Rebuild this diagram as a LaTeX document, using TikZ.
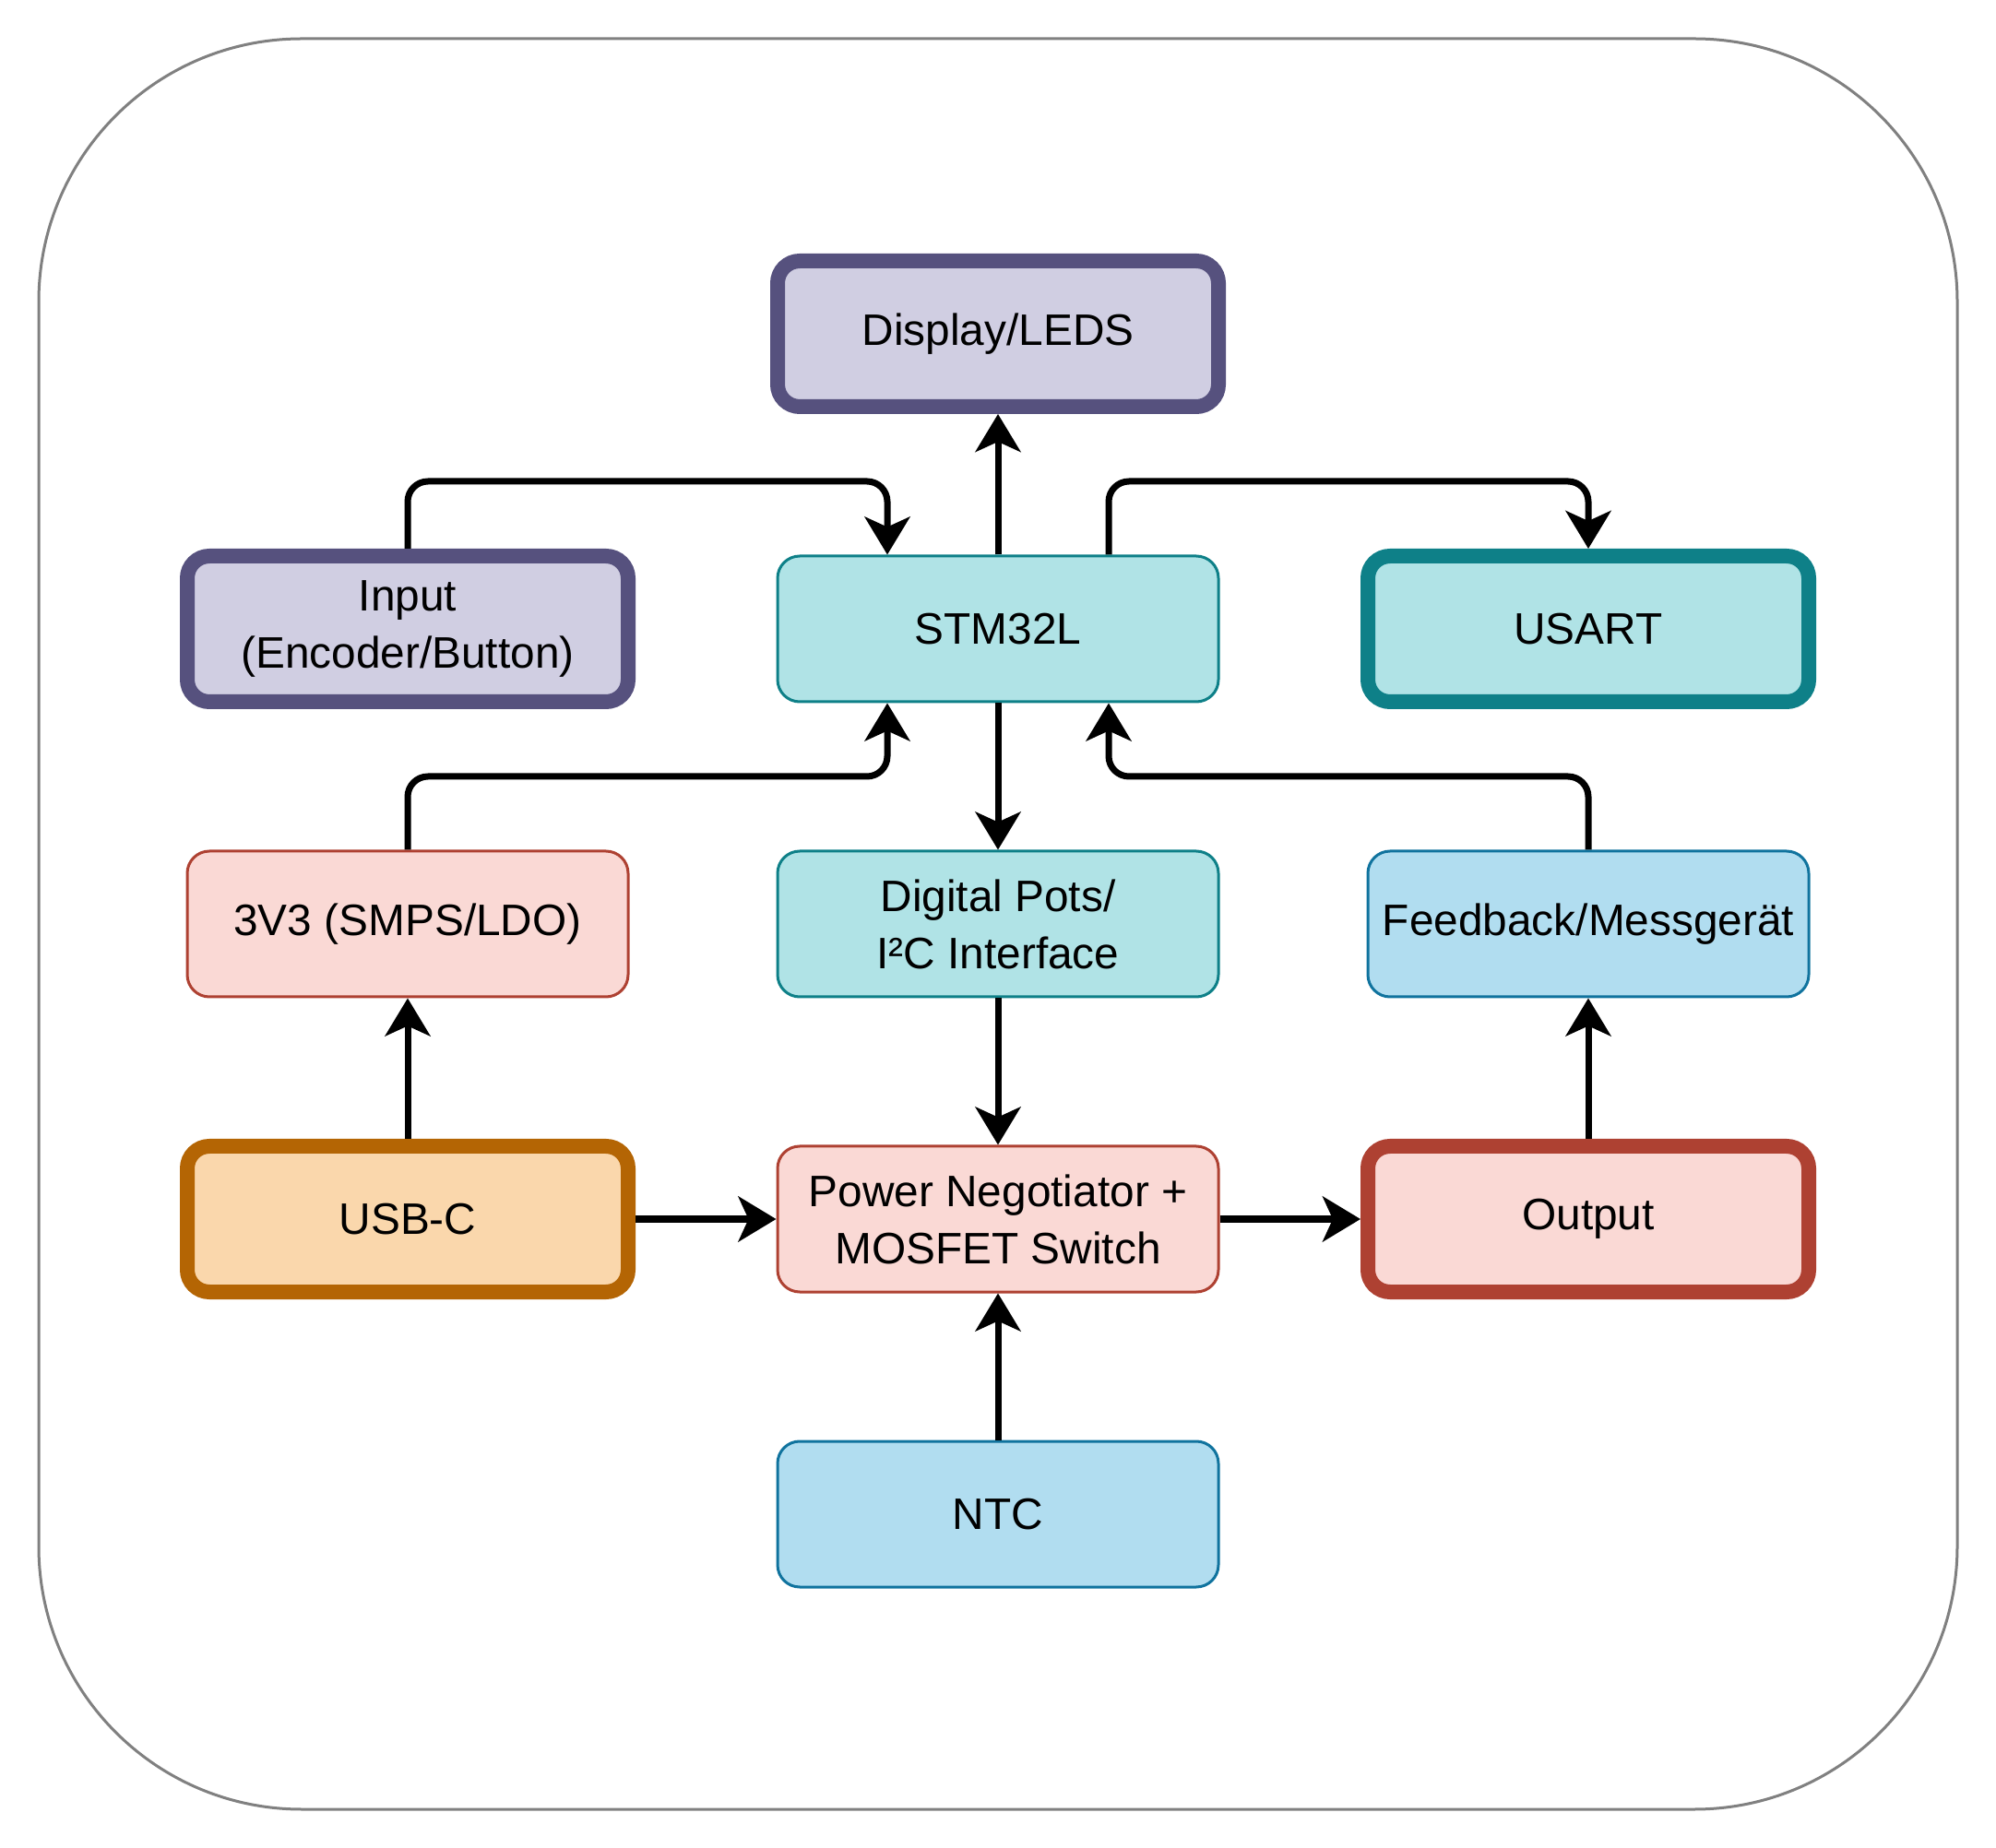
\documentclass[tikz,border=0pt]{standalone}
\usepackage{fontspec}
\setmainfont{Liberation Sans}
\usetikzlibrary{arrows.meta}
\definecolor{purpfill}{HTML}{D0CEE2}
\definecolor{purpline}{HTML}{56517E}
\definecolor{tealfill}{HTML}{B0E3E6}
\definecolor{tealline}{HTML}{0E8088}
\definecolor{redfill}{HTML}{FAD9D5}
\definecolor{redline}{HTML}{AE4132}
\definecolor{orgfill}{HTML}{FAD7AC}
\definecolor{orgline}{HTML}{B46504}
\definecolor{bluefill}{HTML}{B1DDF0}
\definecolor{blueline}{HTML}{10739E}
\definecolor{frameline}{HTML}{808080}
\tikzset{
  blok/.style={draw, rounded corners=0.24cm, minimum width=4.78cm, minimum height=1.58cm,
    align=center, line width=0.03cm, font=\fontsize{13.6}{17.6}\selectfont},
  heavy/.style={line width=0.16cm},
  purp/.style={fill=purpfill, draw=purpline},
  teal/.style={fill=tealfill, draw=tealline},
  redd/.style={fill=redfill, draw=redline},
  orng/.style={fill=orgfill, draw=orgline},
  blue/.style={fill=bluefill, draw=blueline},
  conn/.style={line width=0.07cm, rounded corners=0.22cm,
    -{Stealth[length=0.41cm,width=0.49cm,inset=0.11cm]}}
}
\begin{document}
\begin{tikzpicture}
\useasboundingbox (0,0) rectangle (21.64,-20.04);
\path[draw=frameline, line width=0.03cm, rounded corners=2.85cm] (0.42,-0.42) rectangle (21.22,-19.62);

\node[blok,purp,heavy] (disp) at (10.82,-3.62) {Display/LEDS};
\node[blok,purp,heavy] (input) at (4.42,-6.82) {Input\\(Encoder/Button)};
\node[blok,teal] (stm) at (10.82,-6.82) {STM32L};
\node[blok,teal,heavy] (usart) at (17.22,-6.82) {USART};
\node[blok,redd] (ldo) at (4.42,-10.02) {3V3 (SMPS/LDO)};
\node[blok,teal] (pots) at (10.82,-10.02) {Digital Pots/\\I²C Interface};
\node[blok,blue] (fb) at (17.22,-10.02) {Feedback/Messgerät};
\node[blok,orng,heavy] (usbc) at (4.42,-13.22) {USB-C};
\node[blok,redd] (power) at (10.82,-13.22) {Power Negotiator +\\MOSFET Switch};
\node[blok,redd,heavy] (out) at (17.22,-13.22) {Output};
\node[blok,blue] (ntc) at (10.82,-16.42) {NTC};

\path[draw,conn] (stm.north) -- (disp.south);
\path[draw,conn] (input.north) -- (input.north |- 0,-5.22) -| ([xshift=-1.2cm]stm.north);
\path[draw,conn] ([xshift=1.2cm]stm.north) -- ([xshift=1.2cm]stm.north |- 0,-5.22) -| (usart.north);
\path[draw,conn] (stm.south) -- (pots.north);
\path[draw,conn] (ldo.north) -- (ldo.north |- 0,-8.42) -| ([xshift=-1.2cm]stm.south);
\path[draw,conn] (fb.north) -- (fb.north |- 0,-8.42) -| ([xshift=1.2cm]stm.south);
\path[draw,conn] (usbc.north) -- (ldo.south);
\path[draw,conn] (usbc.east) -- (power.west);
\path[draw,conn] (pots.south) -- (power.north);
\path[draw,conn] (power.east) -- (out.west);
\path[draw,conn] (out.north) -- (fb.south);
\path[draw,conn] (ntc.north) -- (power.south);
\end{tikzpicture}
\end{document}
